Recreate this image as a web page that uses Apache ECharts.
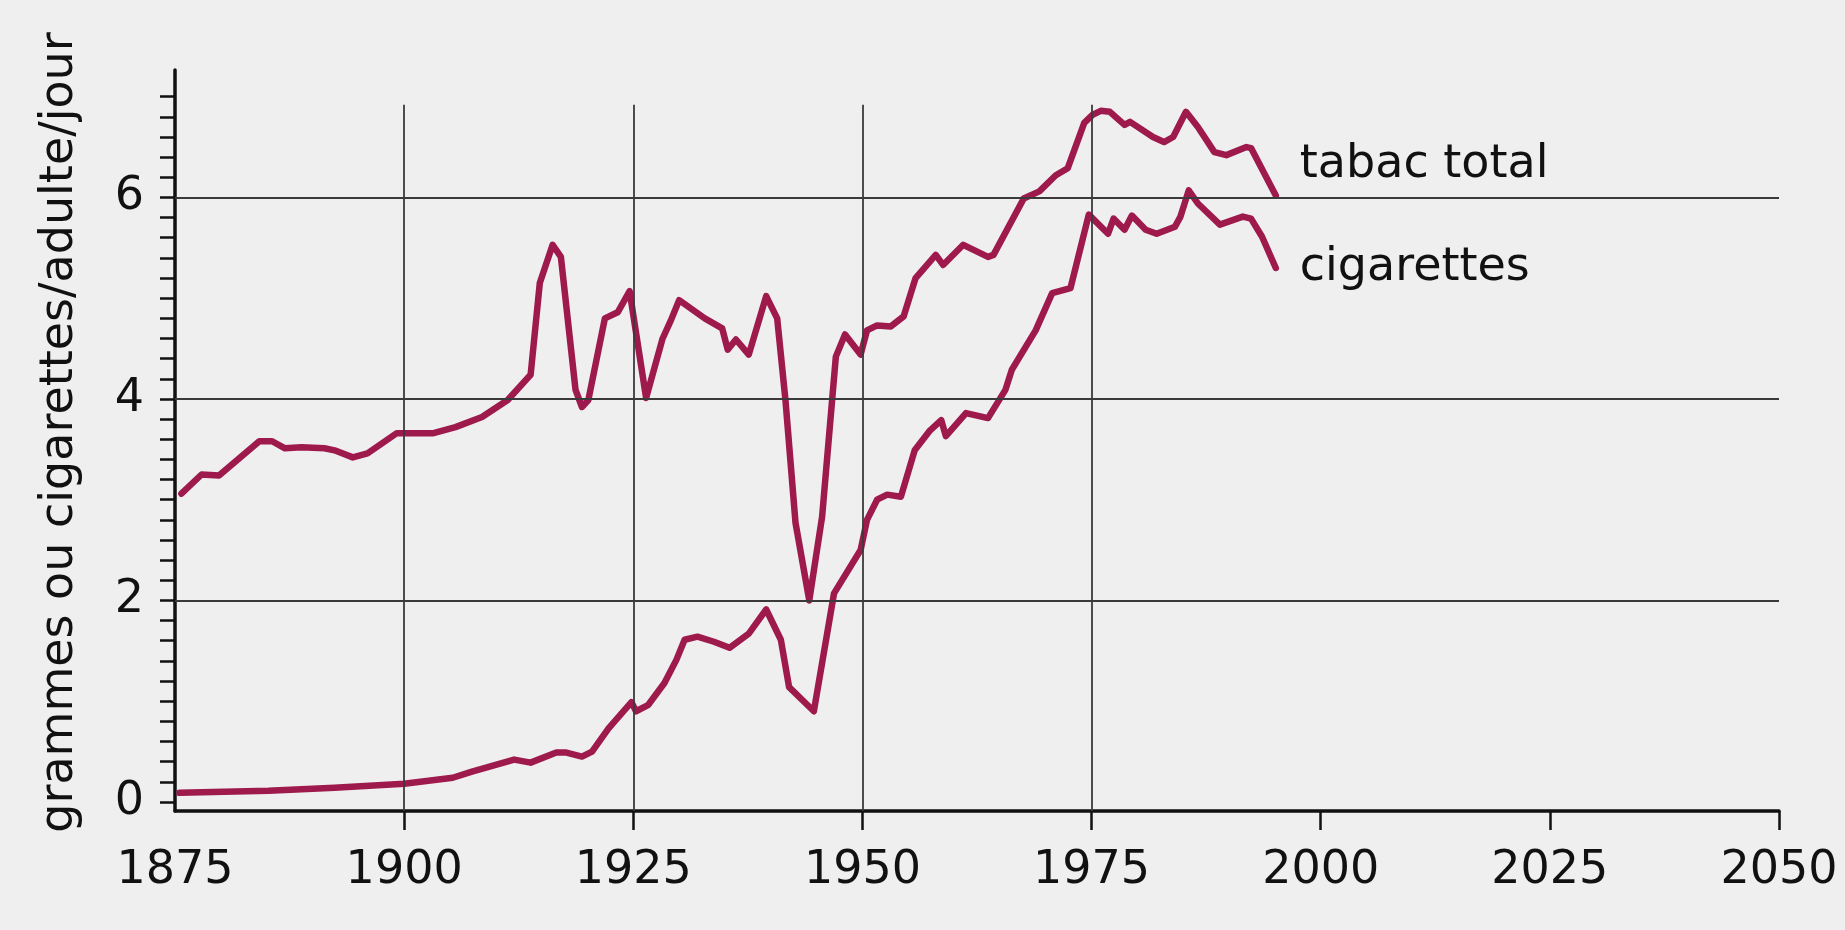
<!DOCTYPE html>
<html>
<head>
<meta charset="utf-8">
<script src="https://cdn.jsdelivr.net/npm/echarts@6/dist/echarts.min.js"></script>
<style>
html,body{margin:0;padding:0;background:#efefef;}
#chart{width:1845px;height:930px;}
</style>
</head>
<body>
<div id="chart"></div>
<script>
// ---- data ----
const totalYears = [1875.7,1877.9,1879.8,1884.2,1885.6,1887.0,1888.8,1891.3,1892.4,1894.4,1896.0,1899.2,1903.2,1905.6,1908.5,1911.3,1913.8,1914.8,1916.2,1917.1,1918.7,1919.4,1920.1,1921.9,1923.3,1924.6,1926.4,1928.2,1929.1,1930.0,1932.8,1934.7,1935.3,1936.2,1937.6,1939.5,1940.7,1941.6,1942.7,1944.2,1945.6,1947.1,1948.1,1949.8,1950.5,1951.6,1953.1,1954.5,1955.8,1958.0,1958.8,1961.0,1963.7,1964.3,1967.6,1969.3,1971.1,1972.4,1974.2,1975.1,1976.0,1977.0,1978.6,1979.2,1981.7,1982.9,1983.9,1985.3,1986.6,1988.4,1989.7,1991.9,1992.4,1995.1];
const totalValues = [3.06,3.25,3.24,3.58,3.58,3.51,3.52,3.51,3.49,3.42,3.46,3.66,3.66,3.72,3.82,3.99,4.24,5.15,5.53,5.41,4.09,3.92,3.99,4.80,4.86,5.07,4.01,4.60,4.78,4.98,4.80,4.70,4.49,4.59,4.44,5.02,4.80,3.99,2.77,2.00,2.83,4.42,4.64,4.44,4.68,4.73,4.72,4.82,5.20,5.43,5.33,5.53,5.41,5.43,5.99,6.06,6.22,6.29,6.74,6.82,6.86,6.85,6.72,6.75,6.60,6.55,6.60,6.85,6.70,6.45,6.42,6.50,6.49,6.02];
const cigYears = [1875.5,1885.2,1892.4,1900.0,1905.3,1907.4,1912.0,1913.8,1916.6,1917.7,1919.4,1920.5,1922.3,1924.8,1925.3,1926.6,1928.4,1929.7,1930.6,1932.0,1933.8,1935.5,1937.6,1939.5,1941.1,1942.0,1944.7,1946.9,1949.8,1950.5,1951.6,1952.7,1954.2,1955.7,1957.3,1958.6,1959.1,1961.3,1963.7,1965.6,1966.3,1968.9,1970.7,1972.7,1974.7,1976.8,1977.4,1978.6,1979.4,1980.9,1982.1,1984.1,1984.7,1985.6,1986.6,1989.0,1991.5,1992.4,1993.6,1995.1];
const cigValues = [0.09,0.11,0.14,0.18,0.24,0.30,0.42,0.39,0.49,0.49,0.45,0.50,0.73,0.99,0.90,0.96,1.18,1.41,1.61,1.64,1.59,1.53,1.67,1.91,1.61,1.14,0.90,2.07,2.50,2.80,3.00,3.05,3.03,3.49,3.68,3.79,3.63,3.86,3.81,4.09,4.29,4.68,5.05,5.10,5.83,5.64,5.79,5.68,5.82,5.68,5.64,5.71,5.81,6.07,5.94,5.73,5.81,5.79,5.61,5.30];

const seriesNames = ['tabac total', 'cigarettes'];
const yAxisTitle = 'grammes ou cigarettes/adulte/jour';
const xTickLabels = [1875,1900,1925,1950,1975,2000,2025,2050];
const xTickMarks = [1900,1925,1950,1975,2000,2025,2050];
const yTickLabels = [0,2,4,6];
const yMinorTicks = [0,0.2,0.4,0.6,0.8,1,1.2,1.4,1.6,1.8,2,2.2,2.4,2.6,2.8,3,3.2,3.4,3.6,3.8,4,4.2,4.4,4.6,4.8,5,5.2,5.4,5.6,5.8,6,6.2,6.4,6.6,6.8,7];
const vGridYears = [1900,1925,1950,1975];
const hGridValues = [2,4,6];

const X_MIN = 1875, X_MAX = 2050, Y_MIN = -0.09, Y_MAX = 7.265, VGRID_TOP = 6.92;

const pair = (xs, ys) => xs.map((x, i) => [x, ys[i]]);

const LINE_COLOR = '#9e1a4c';
const TEXT = '#111111';
const FONT = 'DejaVu Sans';

const chart = echarts.init(document.getElementById('chart'), null, {renderer: 'canvas'});

const gridLines = [];
vGridYears.forEach(y => gridLines.push([{coord: [y, Y_MIN]}, {coord: [y, VGRID_TOP]}]));
hGridValues.forEach(v => gridLines.push([{coord: [X_MIN, v]}, {coord: [X_MAX, v]}]));

chart.setOption({
  backgroundColor: '#efefef',
  animation: false,
  grid: {left: 175, right: 66, top: 70, bottom: 119, containLabel: false, outerBoundsMode: 'none'},
  xAxis: {
    type: 'value', min: X_MIN, max: X_MAX, interval: 25,
    axisLine: {show: true, onZero: false, lineStyle: {color: TEXT, width: 3.5}},
    axisTick: {show: true, length: 19, customValues: xTickMarks, lineStyle: {color: TEXT, width: 2.5}},
    axisLabel: {show: true, customValues: xTickLabels, margin: 37, color: TEXT, fontFamily: FONT, fontSize: 46,
                showMinLabel: true, showMaxLabel: true, formatter: v => String(v)},
    splitLine: {show: false}
  },
  yAxis: {
    type: 'value', min: Y_MIN, max: Y_MAX,
    name: yAxisTitle, nameLocation: 'middle', nameGap: 92, nameRotate: 90,
    nameTextStyle: {color: TEXT, fontFamily: FONT, fontSize: 46, padding: [0, 0, 0, 16]},
    axisLine: {show: true, onZero: false, lineStyle: {color: TEXT, width: 3.5}},
    axisTick: {show: true, length: 15, customValues: yMinorTicks, lineStyle: {color: TEXT, width: 2.5}},
    axisLabel: {show: true, customValues: yTickLabels, margin: 31, color: TEXT, fontFamily: FONT, fontSize: 46,
                formatter: v => String(v)},
    splitLine: {show: false}
  },
  series: [
    {
      type: 'line', name: 'grid', data: [], z: 1, silent: true,
      markLine: {
        silent: true, symbol: ['none', 'none'], animation: false,
        label: {show: false},
        lineStyle: {color: '#3a3a3a', width: 1.8, type: 'solid'},
        emphasis: {disabled: true},
        data: gridLines
      }
    },
    {
      type: 'line', name: seriesNames[0], data: pair(totalYears, totalValues), z: 3,
      showSymbol: false, symbol: 'none', smooth: false,
      lineStyle: {color: LINE_COLOR, width: 6.5, join: 'round', cap: 'round'},
      emphasis: {disabled: true},
      endLabel: {show: true, formatter: seriesNames[0], distance: 24, offset: [0, -30],
                 color: TEXT, fontFamily: FONT, fontSize: 46}
    },
    {
      type: 'line', name: seriesNames[1], data: pair(cigYears, cigValues), z: 3,
      showSymbol: false, symbol: 'none', smooth: false,
      lineStyle: {color: LINE_COLOR, width: 6.5, join: 'round', cap: 'round'},
      emphasis: {disabled: true},
      endLabel: {show: true, formatter: seriesNames[1], distance: 24, offset: [0, 0],
                 color: TEXT, fontFamily: FONT, fontSize: 46}
    }
  ]
});
</script>
</body>
</html>
